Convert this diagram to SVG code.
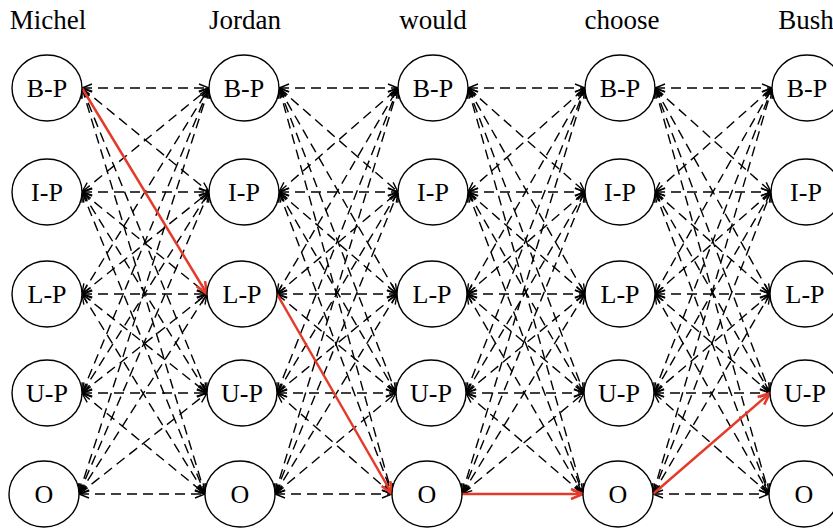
<svg xmlns="http://www.w3.org/2000/svg" width="833" height="529" viewBox="0 0 833 529">
<defs>
<style>
.n ellipse{fill:#fff;stroke:#000;stroke-width:1.4}
.n text{font-family:"Liberation Serif","Times New Roman",serif;font-size:26px;text-anchor:middle;fill:#000}
.w{font-family:"Liberation Serif","Times New Roman",serif;font-size:27px;text-anchor:middle;fill:#000}
.d line{stroke:#000;stroke-width:1.4;stroke-dasharray:10 6;fill:none;marker-start:url(#ah);marker-end:url(#ah)}
.r line{stroke:#e53a2a;stroke-width:2.5;marker-end:url(#rh)}
</style>
<marker id="ah" markerUnits="userSpaceOnUse" markerWidth="12" markerHeight="10" refX="10" refY="4" orient="auto-start-reverse" overflow="visible">
<path d="M0,0 L10,4 L0,8" fill="none" stroke="#000" stroke-width="1.4"/>
</marker>
<marker id="rh" markerUnits="userSpaceOnUse" markerWidth="14" markerHeight="12" refX="12" refY="5" orient="auto" overflow="visible">
<path d="M0,0 L12,5 L0,10" fill="none" stroke="#e53a2a" stroke-width="2.5"/>
</marker>
</defs>
<rect width="833" height="529" fill="#fff"/>
<g id="words">
<text class="w" x="48" y="29">Michel</text>
<text class="w" x="245" y="29">Jordan</text>
<text class="w" x="433" y="29">would</text>
<text class="w" x="622" y="29">choose</text>
<text class="w" x="806" y="29">Bush</text>
</g>
<g id="connectors">
<g class="d">
<line x1="82" y1="88" x2="209" y2="88"/><line x1="82" y1="88" x2="209" y2="192"/><line x1="82" y1="88" x2="207" y2="393"/><line x1="82" y1="88" x2="205" y2="494"/>
<line x1="82" y1="192" x2="209" y2="88"/><line x1="82" y1="192" x2="209" y2="192"/><line x1="82" y1="192" x2="207" y2="294"/><line x1="82" y1="192" x2="207" y2="393"/><line x1="82" y1="192" x2="205" y2="494"/>
<line x1="82" y1="294" x2="209" y2="88"/><line x1="82" y1="294" x2="209" y2="192"/><line x1="82" y1="294" x2="207" y2="294"/><line x1="82" y1="294" x2="207" y2="393"/><line x1="82" y1="294" x2="205" y2="494"/>
<line x1="82" y1="393" x2="209" y2="88"/><line x1="82" y1="393" x2="209" y2="192"/><line x1="82" y1="393" x2="207" y2="294"/><line x1="82" y1="393" x2="207" y2="393"/><line x1="82" y1="393" x2="205" y2="494"/>
<line x1="79" y1="494" x2="209" y2="88"/><line x1="79" y1="494" x2="209" y2="192"/><line x1="79" y1="494" x2="207" y2="294"/><line x1="79" y1="494" x2="207" y2="393"/><line x1="79" y1="494" x2="205" y2="494"/>

<line x1="279" y1="88" x2="398" y2="88"/><line x1="279" y1="88" x2="398" y2="192"/><line x1="279" y1="88" x2="397" y2="294"/><line x1="279" y1="88" x2="396" y2="393"/><line x1="279" y1="88" x2="392" y2="494"/>
<line x1="279" y1="192" x2="398" y2="88"/><line x1="279" y1="192" x2="398" y2="192"/><line x1="279" y1="192" x2="397" y2="294"/><line x1="279" y1="192" x2="396" y2="393"/><line x1="279" y1="192" x2="392" y2="494"/>
<line x1="277" y1="294" x2="398" y2="88"/><line x1="277" y1="294" x2="398" y2="192"/><line x1="277" y1="294" x2="397" y2="294"/><line x1="277" y1="294" x2="396" y2="393"/>
<line x1="277" y1="393" x2="398" y2="88"/><line x1="277" y1="393" x2="398" y2="192"/><line x1="277" y1="393" x2="397" y2="294"/><line x1="277" y1="393" x2="396" y2="393"/><line x1="277" y1="393" x2="392" y2="494"/>
<line x1="275" y1="494" x2="398" y2="88"/><line x1="275" y1="494" x2="398" y2="192"/><line x1="275" y1="494" x2="397" y2="294"/><line x1="275" y1="494" x2="396" y2="393"/><line x1="275" y1="494" x2="392" y2="494"/>

<line x1="468" y1="88" x2="585" y2="88"/><line x1="468" y1="88" x2="585" y2="192"/><line x1="468" y1="88" x2="585" y2="294"/><line x1="468" y1="88" x2="584" y2="393"/><line x1="468" y1="88" x2="583" y2="494"/>
<line x1="468" y1="192" x2="585" y2="88"/><line x1="468" y1="192" x2="585" y2="192"/><line x1="468" y1="192" x2="585" y2="294"/><line x1="468" y1="192" x2="584" y2="393"/><line x1="468" y1="192" x2="583" y2="494"/>
<line x1="467" y1="294" x2="585" y2="88"/><line x1="467" y1="294" x2="585" y2="192"/><line x1="467" y1="294" x2="585" y2="294"/><line x1="467" y1="294" x2="584" y2="393"/><line x1="467" y1="294" x2="583" y2="494"/>
<line x1="466" y1="393" x2="585" y2="88"/><line x1="466" y1="393" x2="585" y2="192"/><line x1="466" y1="393" x2="585" y2="294"/><line x1="466" y1="393" x2="584" y2="393"/><line x1="466" y1="393" x2="583" y2="494"/>
<line x1="462" y1="494" x2="585" y2="88"/><line x1="462" y1="494" x2="585" y2="192"/><line x1="462" y1="494" x2="585" y2="294"/><line x1="462" y1="494" x2="584" y2="393"/>

<line x1="655" y1="88" x2="772" y2="88"/><line x1="655" y1="88" x2="771" y2="192"/><line x1="655" y1="88" x2="770" y2="294"/><line x1="655" y1="88" x2="770" y2="393"/><line x1="655" y1="88" x2="769" y2="494"/>
<line x1="655" y1="192" x2="772" y2="88"/><line x1="655" y1="192" x2="771" y2="192"/><line x1="655" y1="192" x2="770" y2="294"/><line x1="655" y1="192" x2="770" y2="393"/><line x1="655" y1="192" x2="769" y2="494"/>
<line x1="655" y1="294" x2="772" y2="88"/><line x1="655" y1="294" x2="771" y2="192"/><line x1="655" y1="294" x2="770" y2="294"/><line x1="655" y1="294" x2="770" y2="393"/><line x1="655" y1="294" x2="769" y2="494"/>
<line x1="654" y1="393" x2="772" y2="88"/><line x1="654" y1="393" x2="771" y2="192"/><line x1="654" y1="393" x2="770" y2="294"/><line x1="654" y1="393" x2="770" y2="393"/><line x1="654" y1="393" x2="769" y2="494"/>
<line x1="653" y1="494" x2="772" y2="88"/><line x1="653" y1="494" x2="771" y2="192"/><line x1="653" y1="494" x2="770" y2="294"/><line x1="653" y1="494" x2="769" y2="494"/>
</g>
<g class="r">
<line x1="82" y1="88" x2="207" y2="294"/>
<line x1="277" y1="294" x2="392" y2="494"/>
<line x1="462" y1="494" x2="583" y2="494"/>
<line x1="653" y1="494" x2="770" y2="393"/>
</g>
</g>
<g id="michel-BP" class="n"><ellipse cx="47" cy="88" rx="35" ry="33"/><text x="47" y="97">B-P</text></g>
<g id="michel-IP" class="n"><ellipse cx="47" cy="192" rx="35" ry="33"/><text x="47" y="201">I-P</text></g>
<g id="michel-LP" class="n"><ellipse cx="47" cy="294" rx="35" ry="33"/><text x="47" y="303">L-P</text></g>
<g id="michel-UP" class="n"><ellipse cx="47" cy="393" rx="35" ry="33"/><text x="47" y="402">U-P</text></g>
<g id="michel-O" class="n"><ellipse cx="44" cy="494" rx="35" ry="33"/><text x="44" y="503">O</text></g>
<g id="jordan-BP" class="n"><ellipse cx="244" cy="88" rx="35" ry="33"/><text x="244" y="97">B-P</text></g>
<g id="jordan-IP" class="n"><ellipse cx="244" cy="192" rx="35" ry="33"/><text x="244" y="201">I-P</text></g>
<g id="jordan-LP" class="n"><ellipse cx="242" cy="294" rx="35" ry="33"/><text x="242" y="303">L-P</text></g>
<g id="jordan-UP" class="n"><ellipse cx="242" cy="393" rx="35" ry="33"/><text x="242" y="402">U-P</text></g>
<g id="jordan-O" class="n"><ellipse cx="240" cy="494" rx="35" ry="33"/><text x="240" y="503">O</text></g>
<g id="would-BP" class="n"><ellipse cx="433" cy="88" rx="35" ry="33"/><text x="433" y="97">B-P</text></g>
<g id="would-IP" class="n"><ellipse cx="433" cy="192" rx="35" ry="33"/><text x="433" y="201">I-P</text></g>
<g id="would-LP" class="n"><ellipse cx="432" cy="294" rx="35" ry="33"/><text x="432" y="303">L-P</text></g>
<g id="would-UP" class="n"><ellipse cx="431" cy="393" rx="35" ry="33"/><text x="431" y="402">U-P</text></g>
<g id="would-O" class="n"><ellipse cx="427" cy="494" rx="35" ry="33"/><text x="427" y="503">O</text></g>
<g id="choose-BP" class="n"><ellipse cx="620" cy="88" rx="35" ry="33"/><text x="620" y="97">B-P</text></g>
<g id="choose-IP" class="n"><ellipse cx="620" cy="192" rx="35" ry="33"/><text x="620" y="201">I-P</text></g>
<g id="choose-LP" class="n"><ellipse cx="620" cy="294" rx="35" ry="33"/><text x="620" y="303">L-P</text></g>
<g id="choose-UP" class="n"><ellipse cx="619" cy="393" rx="35" ry="33"/><text x="619" y="402">U-P</text></g>
<g id="choose-O" class="n"><ellipse cx="618" cy="494" rx="35" ry="33"/><text x="618" y="503">O</text></g>
<g id="bush-BP" class="n"><ellipse cx="807" cy="88" rx="35" ry="33"/><text x="807" y="97">B-P</text></g>
<g id="bush-IP" class="n"><ellipse cx="806" cy="192" rx="35" ry="33"/><text x="806" y="201">I-P</text></g>
<g id="bush-LP" class="n"><ellipse cx="805" cy="294" rx="35" ry="33"/><text x="805" y="303">L-P</text></g>
<g id="bush-UP" class="n"><ellipse cx="805" cy="393" rx="35" ry="33"/><text x="805" y="402">U-P</text></g>
<g id="bush-O" class="n"><ellipse cx="804" cy="494" rx="35" ry="33"/><text x="804" y="503">O</text></g>
</svg>
